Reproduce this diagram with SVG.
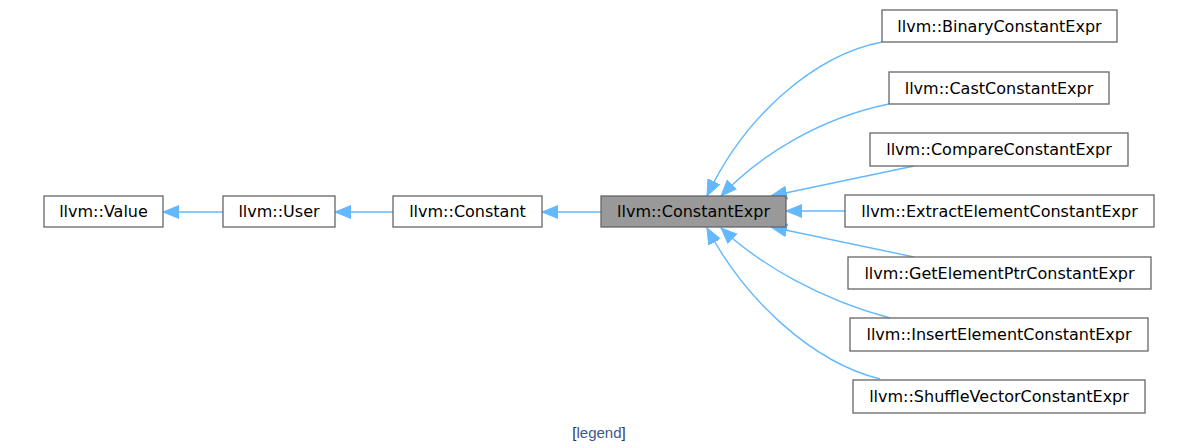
<svg xmlns="http://www.w3.org/2000/svg" width="1188" height="448" viewBox="0 0 1188 448">
<style>
.n rect{fill:#fff;stroke:#666;stroke-width:1.3}
.n.cur rect{fill:#999}
.n text{font-family:"DejaVu Sans",sans-serif;font-size:16px;fill:#000;text-anchor:middle}
.e path{fill:none;stroke:#63b8ff;stroke-width:1.4;marker-end:url(#ah)}
</style>
<defs>
<marker id="ah" markerUnits="userSpaceOnUse" markerWidth="18" markerHeight="16" viewBox="0 -8 18 16" refX="16" refY="0" orient="auto">
<path d="M0,-6.5 L16,0 L0,6.5 z" fill="#63b8ff" stroke="#63b8ff" stroke-width="1"/>
</marker>
</defs>
<rect width="1188" height="448" fill="#fff"/>
<g id="edges" class="e">
<path d="M223,212 L163,212"/>
<path d="M393,212 L335,212"/>
<path d="M601,212 L542,212"/>
<path d="M882,42 C815,55 745,115 707,196"/>
<path d="M889,104 C820,118 760,155 721,196"/>
<path d="M914,166 L771,196"/>
<path d="M845,211 L786,211"/>
<path d="M914,257 L771,227"/>
<path d="M890,318 C822,300 760,265 721,228"/>
<path d="M880,379 C812,362 745,300 707,228"/>
</g>
<g id="value" class="n"><rect x="44" y="196" width="119" height="31"/><text x="103.5" y="217">llvm::Value</text></g>
<g id="user" class="n"><rect x="223" y="196" width="112" height="31"/><text x="279" y="217">llvm::User</text></g>
<g id="constant" class="n"><rect x="393" y="196" width="149" height="31"/><text x="467.5" y="217">llvm::Constant</text></g>
<g id="constantexpr" class="n cur"><rect x="601" y="196" width="185" height="31"/><text x="693.5" y="217">llvm::ConstantExpr</text></g>
<g id="binary" class="n"><rect x="882" y="10" width="235" height="32"/><text x="999.5" y="31.5">llvm::BinaryConstantExpr</text></g>
<g id="cast" class="n"><rect x="889" y="72" width="220" height="32"/><text x="999" y="93.5">llvm::CastConstantExpr</text></g>
<g id="compare" class="n"><rect x="870" y="133" width="258" height="33"/><text x="999" y="155">llvm::CompareConstantExpr</text></g>
<g id="extract" class="n"><rect x="845" y="195" width="309" height="32"/><text x="999.5" y="216.5">llvm::ExtractElementConstantExpr</text></g>
<g id="gep" class="n"><rect x="848" y="257" width="303" height="32"/><text x="999.5" y="278.5">llvm::GetElementPtrConstantExpr</text></g>
<g id="insert" class="n"><rect x="850" y="318" width="298" height="33"/><text x="999" y="340">llvm::InsertElementConstantExpr</text></g>
<g id="shuffle" class="n"><rect x="853" y="380" width="292" height="33"/><text x="999" y="402">llvm::ShuffleVectorConstantExpr</text></g>
<text x="599" y="438" text-anchor="middle" font-family="Liberation Sans, Arial, sans-serif" font-size="15" fill="#333">[<tspan fill="#3d578c">legend</tspan>]</text>
</svg>
